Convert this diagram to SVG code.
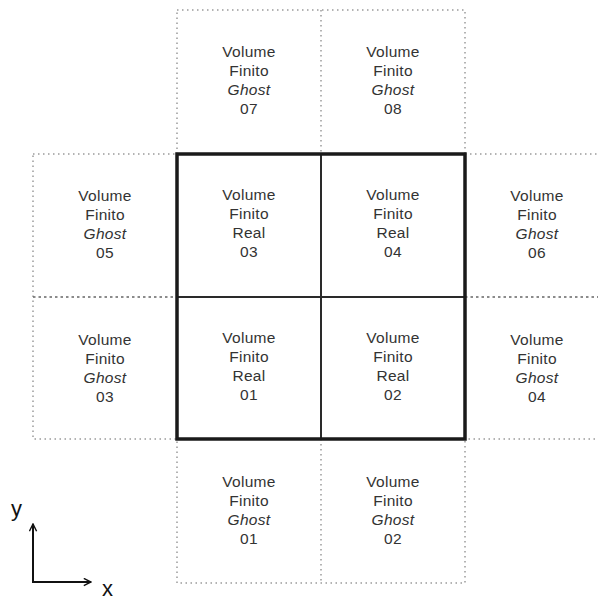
<svg xmlns="http://www.w3.org/2000/svg" width="598" height="600" viewBox="0 0 598 600">
<defs>
<style>
.t{font-family:"Liberation Sans",Arial,sans-serif;font-size:15.5px;fill:#333;text-anchor:middle;letter-spacing:0.3px}
.i{font-style:italic}
.ghost{fill:none;stroke:#9a9a9a;stroke-width:1.5;stroke-dasharray:1.5 3.5}
.gdiv{fill:none;stroke:#666;stroke-width:1.5;stroke-dasharray:2.5 3}
.outer{fill:none;stroke:#1a1a1a;stroke-width:3.5}
.inner{fill:none;stroke:#2a2a2a;stroke-width:2}
.ax{fill:none;stroke:#111;stroke-width:2}
.axl{font-family:"Liberation Sans",Arial,sans-serif;font-size:22px;fill:#111}
</style>
<marker id="arr" viewBox="0 0 10 10" refX="9" refY="5" markerWidth="9" markerHeight="9" orient="auto-start-reverse" markerUnits="userSpaceOnUse">
<path d="M1,1 L9,5 L1,9" fill="none" stroke="#111" stroke-width="1.6"/>
</marker>
</defs>
<rect width="598" height="600" fill="#fff"/>
<g id="connectors">
<rect class="ghost" x="177" y="10" width="288" height="144"/>
<line class="ghost" x1="321" y1="10" x2="321" y2="154"/>
<rect class="ghost" x="177" y="439" width="288" height="144"/>
<line class="ghost" x1="321" y1="439" x2="321" y2="583"/>
<rect class="ghost" x="33" y="154" width="144" height="285"/>
<rect class="ghost" x="465" y="154" width="150" height="285"/>
<line class="gdiv" x1="33" y1="297" x2="177" y2="297"/>
<line class="gdiv" x1="465" y1="297" x2="598" y2="297"/>
<line class="inner" x1="321" y1="154" x2="321" y2="439"/>
<line class="inner" x1="177" y1="297" x2="465" y2="297"/>
<rect class="outer" x="177" y="154" width="288" height="285"/>
</g>
<g id="g07"><text class="t" x="249" y="57">Volume</text><text class="t" x="249" y="76">Finito</text><text class="t i" x="249" y="95">Ghost</text><text class="t" x="249" y="114">07</text></g>
<g id="g08"><text class="t" x="393" y="57">Volume</text><text class="t" x="393" y="76">Finito</text><text class="t i" x="393" y="95">Ghost</text><text class="t" x="393" y="114">08</text></g>
<g id="g05"><text class="t" x="105" y="201">Volume</text><text class="t" x="105" y="220">Finito</text><text class="t i" x="105" y="239">Ghost</text><text class="t" x="105" y="258">05</text></g>
<g id="r03"><text class="t" x="249" y="200">Volume</text><text class="t" x="249" y="219">Finito</text><text class="t" x="249" y="238">Real</text><text class="t" x="249" y="257">03</text></g>
<g id="r04"><text class="t" x="393" y="200">Volume</text><text class="t" x="393" y="219">Finito</text><text class="t" x="393" y="238">Real</text><text class="t" x="393" y="257">04</text></g>
<g id="g06"><text class="t" x="537" y="201">Volume</text><text class="t" x="537" y="220">Finito</text><text class="t i" x="537" y="239">Ghost</text><text class="t" x="537" y="258">06</text></g>
<g id="g03"><text class="t" x="105" y="345">Volume</text><text class="t" x="105" y="364">Finito</text><text class="t i" x="105" y="383">Ghost</text><text class="t" x="105" y="402">03</text></g>
<g id="r01"><text class="t" x="249" y="343">Volume</text><text class="t" x="249" y="362">Finito</text><text class="t" x="249" y="381">Real</text><text class="t" x="249" y="400">01</text></g>
<g id="r02"><text class="t" x="393" y="343">Volume</text><text class="t" x="393" y="362">Finito</text><text class="t" x="393" y="381">Real</text><text class="t" x="393" y="400">02</text></g>
<g id="g04"><text class="t" x="537" y="345">Volume</text><text class="t" x="537" y="364">Finito</text><text class="t i" x="537" y="383">Ghost</text><text class="t" x="537" y="402">04</text></g>
<g id="g01"><text class="t" x="249" y="487">Volume</text><text class="t" x="249" y="506">Finito</text><text class="t i" x="249" y="525">Ghost</text><text class="t" x="249" y="544">01</text></g>
<g id="g02"><text class="t" x="393" y="487">Volume</text><text class="t" x="393" y="506">Finito</text><text class="t i" x="393" y="525">Ghost</text><text class="t" x="393" y="544">02</text></g>
<g id="axes">
<polyline class="ax" points="33,524 33,582 91,582" marker-start="url(#arr)" marker-end="url(#arr)"/>
<text class="axl" x="11" y="516">y</text>
<text class="axl" x="102" y="596">x</text>
</g>
</svg>
